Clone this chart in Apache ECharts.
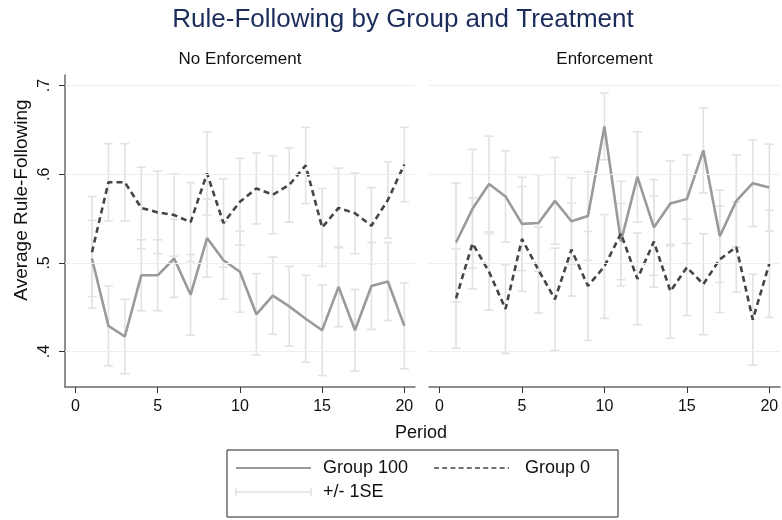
<!DOCTYPE html>
<html>
<head>
<meta charset="utf-8">
<script src="https://cdn.jsdelivr.net/npm/echarts@6/dist/echarts.min.js"></script>
<style>
  html, body { margin: 0; padding: 0; background: #fff; }
  #chart { width: 782px; height: 520px; }
</style>
</head>
<body>
<div id="chart"></div>
<script>
// Average rule-following per period, by group, for each treatment
const periods = [1, 2, 3, 4, 5, 6, 7, 8, 9, 10, 11, 12, 13, 14, 15, 16, 17, 18, 19, 20];
const panelTitles = ['No Enforcement', 'Enforcement'];
const xTicks = [0, 5, 10, 15, 20];
const yTicks = [0.4, 0.5, 0.6, 0.7];

// No Enforcement
const noEnfGroup100 = [0.505, 0.429, 0.417, 0.486, 0.486, 0.505, 0.464, 0.528, 0.503, 0.490, 0.442, 0.463, 0.451, 0.437, 0.424, 0.473, 0.424, 0.474, 0.479, 0.429];
const noEnfGroup100SE = [0.043, 0.045, 0.042, 0.040, 0.040, 0.044, 0.0455, 0.044, 0.044, 0.0457, 0.046, 0.0436, 0.045, 0.049, 0.051, 0.045, 0.046, 0.049, 0.044, 0.0485];
const noEnfGroup0 = [0.512, 0.591, 0.591, 0.562, 0.557, 0.554, 0.546, 0.601, 0.545, 0.569, 0.584, 0.577, 0.588, 0.610, 0.540, 0.562, 0.556, 0.542, 0.571, 0.611];
const noEnfGroup0SE = [0.063, 0.0436, 0.0436, 0.046, 0.0466, 0.0464, 0.0445, 0.047, 0.050, 0.049, 0.040, 0.044, 0.042, 0.043, 0.044, 0.045, 0.0455, 0.043, 0.043, 0.042];

// Enforcement
const enfGroup100 = [0.523, 0.561, 0.589, 0.575, 0.544, 0.545, 0.570, 0.547, 0.553, 0.654, 0.524, 0.597, 0.540, 0.567, 0.572, 0.627, 0.530, 0.570, 0.590, 0.585];
const enfGroup100SE = [0.067, 0.067, 0.054, 0.0515, 0.0526, 0.0545, 0.049, 0.049, 0.050, 0.0376, 0.043, 0.051, 0.054, 0.048, 0.050, 0.048, 0.052, 0.052, 0.049, 0.049];
const enfGroup0 = [0.460, 0.522, 0.490, 0.448, 0.527, 0.492, 0.459, 0.515, 0.474, 0.496, 0.533, 0.482, 0.524, 0.468, 0.495, 0.476, 0.504, 0.518, 0.436, 0.499];
const enfGroup0SE = [0.056, 0.0513, 0.0432, 0.050, 0.059, 0.0485, 0.0577, 0.0524, 0.0615, 0.0586, 0.059, 0.0517, 0.0513, 0.053, 0.0543, 0.057, 0.060, 0.051, 0.0513, 0.0605];

const FONT = "'Liberation Sans', Arial, Helvetica, sans-serif";
const COL_G100 = '#9a9a9a';
const COL_G0 = '#454545';
const COL_SE = '#e2e2e2';
const COL_AXIS = '#6a6a6a';
const COL_GRID = '#e8f0f2';

const panels = [
  { g100: noEnfGroup100, g100se: noEnfGroup100SE, g0: noEnfGroup0, g0se: noEnfGroup0SE },
  { g100: enfGroup100, g100se: enfGroup100SE, g0: enfGroup0, g0se: enfGroup0SE }
];

function seRows(means, ses) {
  return periods.map((p, i) => [p, means[i] - ses[i], means[i] + ses[i]]);
}

function errorBarItem(params, api) {
  const x = api.value(0);
  const lo = api.coord([x, api.value(1)]);
  const hi = api.coord([x, api.value(2)]);
  const hw = 4.5;
  const st = { stroke: COL_SE, lineWidth: 1.6 };
  return {
    type: 'group',
    children: [
      { type: 'line', shape: { x1: lo[0], y1: lo[1], x2: hi[0], y2: hi[1] }, style: st },
      { type: 'line', shape: { x1: lo[0] - hw, y1: lo[1], x2: lo[0] + hw, y2: lo[1] }, style: st },
      { type: 'line', shape: { x1: hi[0] - hw, y1: hi[1], x2: hi[0] + hw, y2: hi[1] }, style: st }
    ]
  };
}

const grids = [
  { left: 65, top: 75, width: 350, height: 312 },
  { left: 429, top: 75, width: 351, height: 312 }
];

const xAxes = grids.map((g, i) => ({
  type: 'value', gridIndex: i, min: -0.64, max: 20.65,
  axisLine: { show: true, onZero: false, lineStyle: { color: COL_AXIS, width: 1.5 } },
  axisTick: { show: true, customValues: xTicks, length: 6, lineStyle: { color: '#333', width: 1 } },
  axisLabel: { customValues: xTicks, fontFamily: FONT, fontSize: 16, color: '#111', margin: 12 },
  splitLine: { show: false }
}));

const yAxes = grids.map((g, i) => ({
  type: 'value', gridIndex: i, min: 0.36, max: 0.712,
  axisLine: { show: i === 0, onZero: false, lineStyle: { color: COL_AXIS, width: 1.5 } },
  axisTick: { show: i === 0, customValues: yTicks, length: 6, lineStyle: { color: '#333', width: 1 } },
  axisLabel: {
    show: i === 0, customValues: yTicks, rotate: 90, fontFamily: FONT, fontSize: 16, color: '#111', margin: 12,
    formatter: v => String(Math.round(v * 10) / 10).replace(/^0/, '')
  },
  splitLine: { show: false }
}));

const series = [];
panels.forEach((pn, i) => {
  // horizontal reference lines
  series.push({
    type: 'line', xAxisIndex: i, yAxisIndex: i, data: [], z: 0, silent: true,
    markLine: {
      silent: true, symbol: 'none', animation: false,
      label: { show: false },
      lineStyle: { color: COL_GRID, width: 1, type: 'solid' },
      data: yTicks.map(v => ({ yAxis: v }))
    }
  });
  series.push({
    type: 'custom', xAxisIndex: i, yAxisIndex: i, z: 1, silent: true,
    renderItem: errorBarItem, encode: { x: 0, y: [1, 2] },
    data: seRows(pn.g100, pn.g100se)
  });
  series.push({
    type: 'custom', xAxisIndex: i, yAxisIndex: i, z: 1, silent: true,
    renderItem: errorBarItem, encode: { x: 0, y: [1, 2] },
    data: seRows(pn.g0, pn.g0se)
  });
  series.push({
    name: 'Group 100', type: 'line', xAxisIndex: i, yAxisIndex: i, z: 3,
    showSymbol: false, symbol: 'none',
    lineStyle: { color: COL_G100, width: 2.6 },
    data: periods.map((p, k) => [p, pn.g100[k]])
  });
  series.push({
    name: 'Group 0', type: 'line', xAxisIndex: i, yAxisIndex: i, z: 3,
    showSymbol: false, symbol: 'none',
    lineStyle: { color: COL_G0, width: 2.6, type: [6, 4] },
    data: periods.map((p, k) => [p, pn.g0[k]])
  });
});

// legend box drawn by hand
const lgTop = 450, lgBottom = 517, lgLeft = 227, lgRight = 618;
const row1 = 468, row2 = 492;
const graphics = [
  { type: 'text', x: 403, y: 20, style: { text: 'Rule-Following by Group and Treatment', font: '26px ' + FONT, fill: '#1c2d5c', textAlign: 'center', textVerticalAlign: 'middle' } },
  { type: 'text', x: 240, y: 59, style: { text: panelTitles[0], font: '17px ' + FONT, fill: '#111', textAlign: 'center', textVerticalAlign: 'middle' } },
  { type: 'text', x: 604.5, y: 59, style: { text: panelTitles[1], font: '17px ' + FONT, fill: '#111', textAlign: 'center', textVerticalAlign: 'middle' } },
  { type: 'text', x: 22, y: 200, rotation: Math.PI / 2, style: { text: 'Average Rule-Following', font: '19px ' + FONT, fill: '#111', textAlign: 'center', textVerticalAlign: 'middle' } },
  { type: 'text', x: 421, y: 433, style: { text: 'Period', font: '18px ' + FONT, fill: '#111', textAlign: 'center', textVerticalAlign: 'middle' } },
  { type: 'rect', shape: { x: lgLeft, y: lgTop, width: lgRight - lgLeft, height: lgBottom - lgTop }, style: { fill: '#fff', stroke: '#222', lineWidth: 1 } },
  { type: 'line', shape: { x1: 236, y1: row1, x2: 311, y2: row1 }, style: { stroke: COL_G100, lineWidth: 2.2 } },
  { type: 'text', x: 323, y: row1, style: { text: 'Group 100', font: '18px ' + FONT, fill: '#111', textVerticalAlign: 'middle' } },
  { type: 'line', shape: { x1: 434, y1: row1, x2: 509, y2: row1 }, style: { stroke: COL_G0, lineWidth: 1.6, lineDash: [5, 3.2] } },
  { type: 'text', x: 525, y: row1, style: { text: 'Group 0', font: '18px ' + FONT, fill: '#111', textVerticalAlign: 'middle' } },
  { type: 'line', shape: { x1: 236, y1: row2, x2: 311, y2: row2 }, style: { stroke: COL_SE, lineWidth: 1.6 } },
  { type: 'line', shape: { x1: 236, y1: row2 - 4, x2: 236, y2: row2 + 4 }, style: { stroke: COL_SE, lineWidth: 1.6 } },
  { type: 'line', shape: { x1: 311, y1: row2 - 4, x2: 311, y2: row2 + 4 }, style: { stroke: COL_SE, lineWidth: 1.6 } },
  { type: 'text', x: 323, y: row2, style: { text: '+/- 1SE', font: '18px ' + FONT, fill: '#111', textVerticalAlign: 'middle' } }
];

const chart = echarts.init(document.getElementById('chart'), null, { renderer: 'canvas' });
chart.setOption({
  animation: false,
  backgroundColor: '#fff',
  grid: grids,
  xAxis: xAxes,
  yAxis: yAxes,
  series: series,
  graphic: graphics
});
</script>
</body>
</html>
